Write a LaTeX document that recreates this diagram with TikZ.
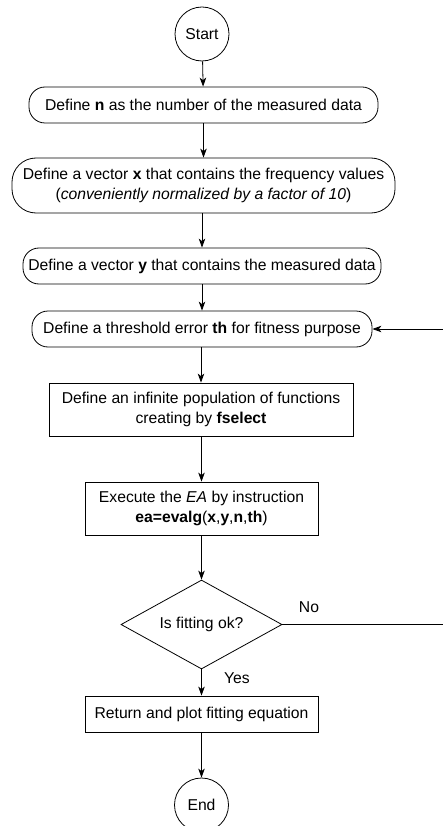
\documentclass[tikz,border=0pt]{standalone}
\usepackage{fontspec}
\setmainfont{Liberation Sans}
\usetikzlibrary{arrows.meta,shapes.geometric}
\begin{document}
\begin{tikzpicture}[x=1pt,y=-1pt,
  every node/.style={font=\fontsize{15.7}{19.5}\selectfont, inner sep=0pt},
  term/.style={draw, circle, minimum size=54pt, line width=0.8pt},
  roundbox/.style={draw, rectangle, rounded corners=16pt, line width=0.8pt, align=center},
  procbox/.style={draw, rectangle, line width=0.8pt, align=center},
  decision/.style={draw, diamond, aspect=1.81, minimum width=161pt, minimum height=89pt, line width=0.8pt},
  flow/.style={line width=0.8pt, -{Stealth[length=9pt,width=6.5pt,inset=2.5pt]}},
  lbl/.style={font=\fontsize{15.7}{19.5}\selectfont}
]
\useasboundingbox (0,0) rectangle (442,826);
\node[term] (start) at (202,34) {Start};
\node[roundbox, minimum width=349pt, minimum height=36pt] (n) at (203.5,105) {Define \textbf{n} as the number of the measured data};
\node[roundbox, rounded corners=24pt, minimum width=383pt, minimum height=55pt] (xv) at (203.5,185.5) {Define a vector \textbf{x} that contains the frequency values\\(\textit{conveniently normalized by a factor of 10})};
\node[roundbox, minimum width=358pt, minimum height=36pt] (yv) at (202,266) {Define a vector \textbf{y} that contains the measured data};
\node[roundbox, minimum width=340pt, minimum height=36pt] (th) at (202,329) {Define a threshold error \textbf{th} for fitness purpose};
\node[procbox, minimum width=304pt, minimum height=53pt] (fs) at (201,409.5) {Define an infinite population of functions\\creating by \textbf{fselect}};
\node[procbox, minimum width=233pt, minimum height=53pt] (ea) at (201.5,508.5) {Execute the \textit{EA} by instruction\\\textbf{ea=evalg}(\textbf{x},\textbf{y},\textbf{n},\textbf{th})};
\node[decision] (dia) at (201.5,624.5) {Is fitting ok?};
\node[procbox, minimum width=233pt, minimum height=36pt] (ret) at (201.5,714) {Return and plot fitting equation};
\node[term] (end) at (201.5,805) {End};
\node[lbl] (no) at (309,607) {No};
\node[lbl] (yes) at (237,678) {Yes};
\coordinate (c1) at (445,624.5);
\coordinate (c2) at (445,329);

\draw[flow] (start) -- (n);
\draw[flow] (n.south -| xv.north) -- (xv.north);
\draw[flow] (xv.south -| yv.north) -- (yv.north);
\draw[flow] (yv) -- (th);
\draw[flow] (th.south -| fs.north) -- (fs.north);
\draw[flow] (fs.south -| ea.north) -- (ea.north);
\draw[flow] (ea) -- (dia);
\draw[flow] (dia) -- (ret);
\draw[flow] (ret) -- (end);
\draw[flow] (dia.east) -- (c1) -- (c2) -- (th.east);
\end{tikzpicture}
\end{document}
